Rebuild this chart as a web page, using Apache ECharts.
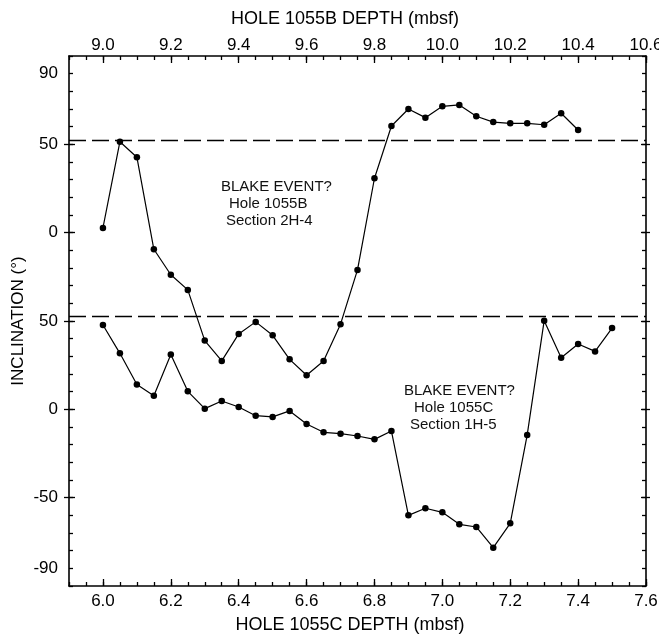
<!DOCTYPE html>
<html>
<head>
<meta charset="utf-8">
<script src="https://cdn.jsdelivr.net/npm/echarts@6/dist/echarts.min.js"></script>
<style>
html,body{margin:0;padding:0;background:#fff;}
#chart{width:659px;height:634px;}
</style>
</head>
<body>
<div id="chart"></div>
<script>
// Hole 1055B (top depth axis, upper curve)
const depthB = [9.00, 9.05, 9.10, 9.15, 9.20, 9.25, 9.30, 9.35, 9.40, 9.45, 9.50, 9.55, 9.60, 9.65, 9.70,
  9.75, 9.80, 9.85, 9.90, 9.95, 10.00, 10.05, 10.10, 10.15, 10.20, 10.25, 10.30, 10.35, 10.40];
const inclB = [2.7, 51.5, 42.7, -9.4, -23.8, -32.4, -61.1, -72.6, -57.3, -50.5, -58.1, -71.7, -80.7, -72.6, -51.8,
  -21.1, 30.8, 60.4, 70.0, 65.1, 71.5, 72.3, 65.9, 62.6, 61.9, 61.9, 61.1, 67.6, 58.1];

// Hole 1055C (bottom depth axis, lower curve)
const depthC = [6.00, 6.05, 6.10, 6.15, 6.20, 6.25, 6.30, 6.35, 6.40, 6.45, 6.50, 6.55, 6.60, 6.65, 6.70, 6.75,
  6.80, 6.85, 6.90, 6.95, 7.00, 7.05, 7.10, 7.15, 7.20, 7.25, 7.30, 7.35, 7.40, 7.45, 7.50];
const inclC = [47.7, 31.7, 14.1, 7.7, 31.0, 10.2, 0.4, 4.7, 1.3, -3.6, -4.3, -0.9, -8.3, -13.0, -13.8, -15.1,
  -17.0, -12.3, -60.0, -56.0, -58.3, -65.1, -66.6, -78.3, -64.5, -14.5, 50.2, 29.2, 37.0, 32.8, 46.0];

// expected dipole inclination (dashed reference lines)
const refIncl = 52.5;

// tick labels
const ticksC = [6.0, 6.2, 6.4, 6.6, 6.8, 7.0, 7.2, 7.4, 7.6];
const ticksB = [9.0, 9.2, 9.4, 9.6, 9.8, 10.0, 10.2, 10.4, 10.6];
const yLabelsUpper = [90, 50, 0];
const yLabelsLower = [50, 0, -50, -90];
const yMajorUpperUnits = [50, 0, -50, -100, -150];

const FONT = "'Liberation Sans', Arial, Helvetica, sans-serif";
const chart = echarts.init(document.getElementById('chart'));

const lbl = {color: '#000', fontFamily: FONT, fontSize: 17};
const line = {onZero: false, lineStyle: {color: '#000', width: 1.6}};
const noLine = {show: false, onZero: false};
const tickStyle = {color: '#000', width: 1.3};

function pairs(xs, ys) { return xs.map((x, i) => [x, ys[i]]); }

const xAxes = [
  { // bottom labels / major ticks
    type: 'value', position: 'bottom', min: 5.9, max: 7.6,
    axisLine: Object.assign({show: true}, line),
    axisTick: {show: true, inside: true, length: 7, customValues: ticksC, lineStyle: tickStyle},
    axisLabel: Object.assign({customValues: ticksC, margin: 7, formatter: v => v.toFixed(1)}, lbl),
    splitLine: {show: false},
    name: 'HOLE 1055C DEPTH (mbsf)', nameLocation: 'middle', nameGap: 30,
    nameTextStyle: {color: '#000', fontFamily: FONT, fontSize: 18, padding: [0, 15, 0, 0]}
  },
  { // bottom minor ticks
    type: 'value', position: 'bottom', min: 5.9, max: 7.6, interval: 0.05,
    axisLine: noLine,
    axisTick: {show: true, inside: true, length: 4, lineStyle: tickStyle},
    axisLabel: {show: false}, splitLine: {show: false}
  },
  { // top labels / major ticks
    type: 'value', position: 'top', min: 8.9, max: 10.6,
    axisLine: Object.assign({show: true}, line),
    axisTick: {show: true, inside: true, length: 7, customValues: ticksB, lineStyle: tickStyle},
    axisLabel: Object.assign({customValues: ticksB, margin: 2, formatter: v => v.toFixed(1)}, lbl),
    splitLine: {show: false},
    name: 'HOLE 1055B DEPTH (mbsf)', nameLocation: 'middle', nameGap: 28,
    nameTextStyle: {color: '#000', fontFamily: FONT, fontSize: 18, padding: [0, 25, 0, 0]}
  },
  { // top minor ticks
    type: 'value', position: 'top', min: 8.9, max: 10.6, interval: 0.05,
    axisLine: noLine,
    axisTick: {show: true, inside: true, length: 4, lineStyle: tickStyle},
    axisLabel: {show: false}, splitLine: {show: false}
  }
];

const yAxes = [
  { // upper panel scale with its labels
    type: 'value', position: 'left', min: -200, max: 100,
    axisLine: Object.assign({show: true}, line),
    axisTick: {show: false},
    axisLabel: Object.assign({customValues: yLabelsUpper, margin: 11}, lbl),
    splitLine: {show: false},
    name: 'INCLINATION (°)', nameLocation: 'middle', nameGap: 42, nameRotate: 90,
    nameTextStyle: {color: '#000', fontFamily: FONT, fontSize: 17}
  },
  { // lower panel scale with its labels
    type: 'value', position: 'left', min: -100, max: 200,
    axisLine: noLine, axisTick: {show: false},
    axisLabel: Object.assign({customValues: yLabelsLower, margin: 11}, lbl),
    splitLine: {show: false}
  },
  { // left minor ticks
    type: 'value', position: 'left', min: -200, max: 100, interval: 10,
    axisLine: noLine,
    axisTick: {show: true, inside: true, length: 4, lineStyle: tickStyle},
    axisLabel: {show: false}, splitLine: {show: false}
  },
  { // left major inside
    type: 'value', position: 'left', min: -200, max: 100,
    axisLine: noLine,
    axisTick: {show: true, inside: true, length: 6, customValues: yMajorUpperUnits, lineStyle: tickStyle},
    axisLabel: {show: false}, splitLine: {show: false}
  },
  { // left major outside
    type: 'value', position: 'left', min: -200, max: 100,
    axisLine: noLine,
    axisTick: {show: true, inside: false, length: 5, customValues: yMajorUpperUnits, lineStyle: tickStyle},
    axisLabel: {show: false}, splitLine: {show: false}
  },
  { // right frame + minor ticks
    type: 'value', position: 'right', min: -200, max: 100, interval: 10,
    axisLine: Object.assign({show: true}, line),
    axisTick: {show: true, inside: true, length: 4, lineStyle: tickStyle},
    axisLabel: {show: false}, splitLine: {show: false}
  },
  { // right major inside
    type: 'value', position: 'right', min: -200, max: 100,
    axisLine: noLine,
    axisTick: {show: true, inside: true, length: 5, customValues: yMajorUpperUnits, lineStyle: tickStyle},
    axisLabel: {show: false}, splitLine: {show: false}
  },
  { // right major outside
    type: 'value', position: 'right', min: -200, max: 100,
    axisLine: noLine,
    axisTick: {show: true, inside: false, length: 4, customValues: yMajorUpperUnits, lineStyle: tickStyle},
    axisLabel: {show: false}, splitLine: {show: false}
  }
];

const refLine = {
  silent: true, symbol: ['none', 'none'], label: {show: false},
  lineStyle: {color: '#000', width: 1.3, type: [17, 6]},
  data: [{yAxis: refIncl}]
};

const annot = (x, y, text) => ({
  type: 'text', left: x, top: y,
  style: {text: text, fill: '#111', font: '15px ' + FONT}
});

chart.setOption({
  animation: false,
  backgroundColor: '#fff',
  grid: {left: 69, right: 13, top: 56, bottom: 48, containLabel: false, outerBoundsMode: 'none'},
  xAxis: xAxes,
  yAxis: yAxes,
  series: [
    {
      name: 'Hole 1055B', type: 'line', xAxisIndex: 2, yAxisIndex: 0,
      data: pairs(depthB, inclB),
      symbol: 'circle', symbolSize: 6.5,
      lineStyle: {color: '#000', width: 1.2}, itemStyle: {color: '#000'},
      markLine: refLine
    },
    {
      name: 'Hole 1055C', type: 'line', xAxisIndex: 0, yAxisIndex: 1,
      data: pairs(depthC, inclC),
      symbol: 'circle', symbolSize: 6.5,
      lineStyle: {color: '#000', width: 1.2}, itemStyle: {color: '#000'},
      markLine: refLine
    }
  ],
  graphic: [
    annot(221, 179, 'BLAKE EVENT?'),
    annot(229, 196, 'Hole 1055B'),
    annot(226, 213, 'Section 2H-4'),
    annot(404, 383, 'BLAKE EVENT?'),
    annot(414, 400, 'Hole 1055C'),
    annot(410, 417, 'Section 1H-5')
  ]
});
</script>
</body>
</html>
